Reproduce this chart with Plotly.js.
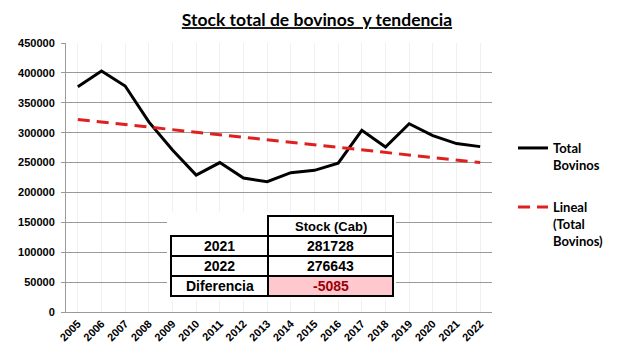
<!DOCTYPE html>
<html>
<head>
<meta charset="utf-8">
<script src="https://cdn.plot.ly/plotly-3.0.1.min.js"></script>
<style>html,body{margin:0;padding:0;background:#fff;}#chart{width:634px;height:364px;}</style>
</head>
<body>
<div id="chart"></div>
<script>
// ---- data ----
const years = ["2005","2006","2007","2008","2009","2010","2011","2012","2013","2014","2015","2016","2017","2018","2019","2020","2021","2022"];
const totalBovinos = [377000,403000,378000,318000,271000,229000,250000,224000,218000,233000,237000,249000,304000,276000,315000,295000,281728,276643];
const trendYears = ["2005","2022"];
const trendValues = [322000,250000];
const tableHeader = "Stock (Cab)";
const tableLabels = ["2021","2022","Diferencia"];
const tableValues = [281728, 276643, -5085];
const yTicks = [0,50000,100000,150000,200000,250000,300000,350000,400000,450000];

// ---- layout helpers (pixel -> paper) ----
const L = 66, R = 492, T = 43, B = 312;
const px = x => (x - L) / (R - L);
const py = y => (B - y) / (B - T);

const traces = [
  {x: years, y: totalBovinos, type: 'scatter', mode: 'lines', name: 'Total<br>Bovinos',
   line: {color: '#000000', width: 3}, legend: 'legend', hoverinfo: 'skip'},
  {x: trendYears, y: trendValues, type: 'scatter', mode: 'lines', name: 'Lineal<br>(Total<br>Bovinos)',
   line: {color: '#e0201f', width: 3, dash: '12px,7px'}, legend: 'legend2', hoverinfo: 'skip'}
];

const shapes = [];
const annotations = [];
// white background behind table
shapes.push({type:'rect', xref:'paper', yref:'paper', x0:px(167), x1:px(396), y0:py(300), y1:py(212),
  fillcolor:'#ffffff', line:{width:0}, layer:'above'});
const c0 = 171, c1 = 268, c2 = 393;
const rowTop = [236, 256, 276], rowH = 20;
// header cell
shapes.push({type:'rect', xref:'paper', yref:'paper', x0:px(c1), x1:px(c2), y0:py(236), y1:py(216),
  fillcolor:'#ffffff', line:{color:'#000', width:2}, layer:'above'});
annotations.push({xref:'paper', yref:'paper', x:px((c1+c2)/2), y:py(226), text:'<b>'+tableHeader+'</b>',
  showarrow:false, font:{family:'Liberation Sans, Arial', size:13, color:'#000'}, xanchor:'center', yanchor:'middle'});
tableLabels.forEach((lab, i) => {
  const y0 = rowTop[i], y1 = y0 + rowH;
  const isDiff = i === tableLabels.length - 1;
  shapes.push({type:'rect', xref:'paper', yref:'paper', x0:px(c0), x1:px(c1), y0:py(y1), y1:py(y0),
    fillcolor:'#ffffff', line:{color:'#000', width:2}, layer:'above'});
  shapes.push({type:'rect', xref:'paper', yref:'paper', x0:px(c1), x1:px(c2), y0:py(y1), y1:py(y0),
    fillcolor: isDiff ? '#ffc7ce' : '#ffffff', line:{color:'#000', width:2}, layer:'above'});
  annotations.push({xref:'paper', yref:'paper', x:px((c0+c1)/2), y:py(y0+rowH/2), text:'<b>'+lab+'</b>',
    showarrow:false, font:{family:'Liberation Sans, Arial', size:14, color:'#000'}, xanchor:'center', yanchor:'middle'});
  annotations.push({xref:'paper', yref:'paper', x:px((c1+c2)/2), y:py(y0+rowH/2), text:'<b>'+tableValues[i]+'</b>',
    showarrow:false, font:{family:'Liberation Sans, Arial', size:14, color: isDiff ? '#9c0006' : '#000'}, xanchor:'center', yanchor:'middle'});
});

const layout = {
  width: 634, height: 364,
  margin: {l: L, r: 634 - R, t: T, b: 364 - B, pad: 0},
  paper_bgcolor: '#ffffff', plot_bgcolor: '#ffffff',
  title: {text: '<b><u>Stock total de bovinos  y tendencia</u></b>', x: 0.5, xanchor: 'center', y: 0.945, yanchor: 'middle',
    font: {family: 'Lato, Carlito, Calibri, sans-serif', size: 17.5, color: '#000'}},
  xaxis: {type: 'category', categoryorder: 'array', categoryarray: years, range: [-0.5, years.length - 0.5],
    tickangle: -45, tickfont: {family: 'Liberation Sans, Arial', size: 11, color: '#000', weight: 'bold'},
    showgrid: true, gridcolor: '#f0f0f0', gridwidth: 1,
    showline: true, linecolor: '#9a9a9a', linewidth: 1, ticks: '', fixedrange: true, zeroline: false},
  yaxis: {range: [0, 450000], tickvals: yTicks, ticktext: yTicks.map(String),
    tickfont: {family: 'Liberation Sans, Arial', size: 11, color: '#000', weight: 'bold'},
    showgrid: true, gridcolor: '#9a9a9a', gridwidth: 1, zeroline: false,
    showline: true, linecolor: '#9a9a9a', linewidth: 1, ticks: 'outside', ticklen: 4, tickcolor: '#9a9a9a',
    ticklabelstandoff: 4, fixedrange: true},
  legend: {x: px(513), y: py(133), xanchor: 'left', yanchor: 'top', valign: 'top', itemwidth: 30,
    font: {family: 'Lato, Carlito, Calibri, sans-serif', size: 13, color: '#000', weight: 'bold'},
    bgcolor: 'rgba(0,0,0,0)', borderwidth: 0, tracegroupgap: 0},
  legend2: {x: px(513), y: py(192), xanchor: 'left', yanchor: 'top', valign: 'top', itemwidth: 30,
    font: {family: 'Lato, Carlito, Calibri, sans-serif', size: 13, color: '#000', weight: 'bold'},
    bgcolor: 'rgba(0,0,0,0)', borderwidth: 0},
  showlegend: true,
  shapes: shapes,
  annotations: annotations
};

Plotly.newPlot('chart', traces, layout, {displayModeBar: false, staticPlot: true});
</script>
</body>
</html>
